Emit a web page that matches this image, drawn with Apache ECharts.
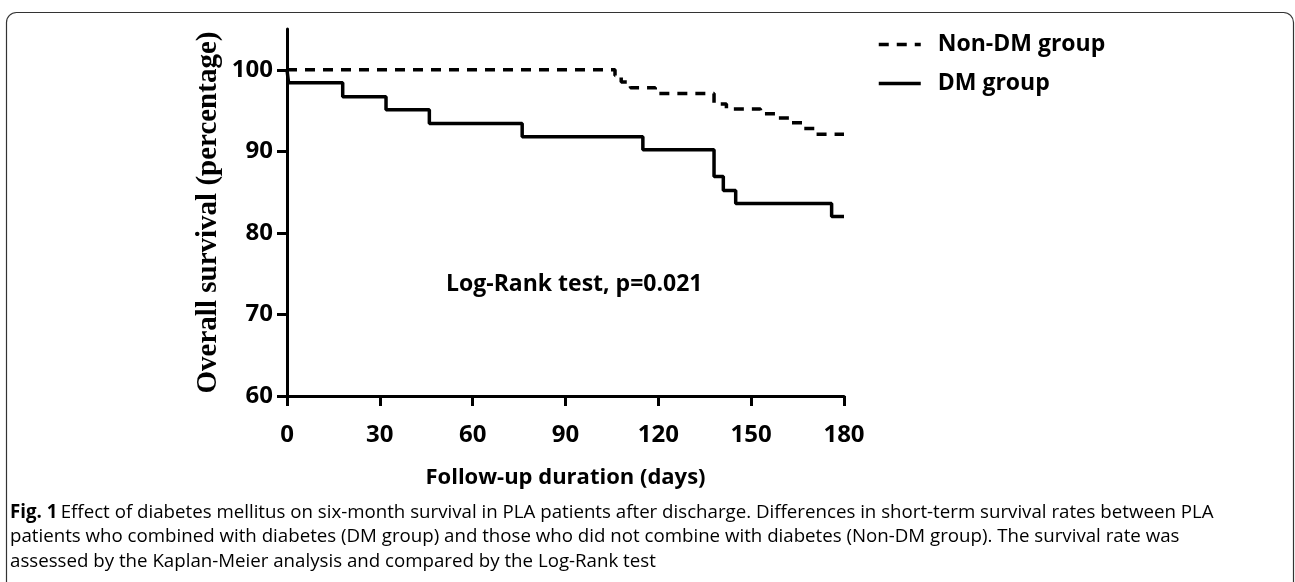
<!DOCTYPE html>
<html>
<head>
<meta charset="utf-8">
<title>Overall survival</title>
<script src="https://cdn.jsdelivr.net/npm/echarts@6/dist/echarts.min.js"></script>
<style>
  html, body { margin: 0; padding: 0; background: #fff; }
  #main { width: 1295px; height: 582px; }
</style>
</head>
<body>
<div id="main"></div>
<script>
// follow-up days and survival (%) at each step of the Kaplan-Meier curves
var dmDays = [0, 0.5, 18, 32, 46, 76, 115, 138, 141, 145, 176, 180];
var dmSurv = [100, 98.4, 96.7, 95.1, 93.4, 91.8, 90.2, 86.9, 85.2, 83.6, 82.0, 82.0];
var nonDmDays = [0, 106, 108, 111, 119, 138, 142, 153, 158, 163, 167, 171, 180];
var nonDmSurv = [100, 99.3, 98.5, 97.8, 97.1, 95.8, 95.2, 94.6, 94.1, 93.5, 92.8, 92.1, 92.1];
var xTicks = [0, 30, 60, 90, 120, 150, 180];
var yTicks = [60, 70, 80, 90, 100];
var seriesNames = ['Non-DM group', 'DM group'];

var caption = [
  'Effect of diabetes mellitus on six-month survival in PLA patients after discharge. Differences in short-term survival rates between PLA',
  'patients who combined with diabetes (DM group) and those who did not combine with diabetes (Non-DM group). The survival rate was',
  'assessed by the Kaplan-Meier analysis and compared by the Log-Rank test'
];

function pairs(xs, ys) {
  var out = [];
  for (var i = 0; i < xs.length; i++) out.push([xs[i], ys[i]]);
  return out;
}

var myChart = echarts.init(document.getElementById('main'));

var boldFont = { fontFamily: 'Open Sans', fontWeight: 'bold', color: '#000' };

var option = {
  backgroundColor: '#fff',
  animation: false,
  grid: { left: 287, right: 451, top: 29, bottom: 186 },
  legend: {
    orient: 'vertical',
    left: 872,
    top: 28,
    itemWidth: 42,
    itemHeight: 14,
    itemGap: 16,
    itemStyle: { opacity: 0 },
    lineStyle: { width: 3.5 },
    textStyle: { fontFamily: 'Open Sans', fontWeight: 'bold', fontSize: 23, color: '#000', padding: [0, 0, 0, 12] },
    data: seriesNames
  },
  xAxis: {
    type: 'value',
    min: 0,
    max: 180,
    interval: 30,
    name: 'Follow-up duration (days)',
    nameLocation: 'middle',
    nameGap: 71,
    nameTextStyle: { fontFamily: 'Open Sans', fontWeight: 'bold', fontSize: 22, color: '#000' },
    axisLine: { lineStyle: { color: '#000', width: 3 } },
    axisTick: { inside: false, length: 10, customValues: xTicks, lineStyle: { color: '#000', width: 3 } },
    axisLabel: Object.assign({ fontSize: 24, margin: 27, customValues: xTicks }, boldFont),
    splitLine: { show: false }
  },
  yAxis: {
    type: 'value',
    min: 60,
    max: 105,
    interval: 10,
    name: 'Overall survival (percentage)',
    nameLocation: 'middle',
    nameGap: 64,
    nameTextStyle: { fontFamily: 'Liberation Serif', fontWeight: 'bold', fontSize: 29, color: '#000' },
    axisLine: { lineStyle: { color: '#000', width: 3 } },
    axisTick: { inside: false, length: 10, customValues: yTicks, lineStyle: { color: '#000', width: 3 } },
    axisLabel: Object.assign({ fontSize: 24, margin: 14, customValues: yTicks }, boldFont),
    splitLine: { show: false }
  },
  graphic: [
    {
      type: 'rect',
      left: 4, top: 10,
      shape: { width: 1287, height: 600, r: 10 },
      style: { fill: 'none', stroke: '#333', lineWidth: 1.2 },
      z: -1
    },
    {
      type: 'text',
      left: 446, top: 273,
      style: { text: 'Log-Rank test, p=0.021', font: 'bold 23px "Open Sans"', fill: '#000' }
    },
    {
      type: 'text',
      left: 10, top: 503,
      style: {
        rich: {
          b: { font: 'bold 18.7px "Open Sans"', fill: '#000', lineHeight: 24.5 },
          n: { font: '18.7px "Open Sans"', fill: '#000', lineHeight: 24.5 }
        },
        text: '{b|Fig. 1} {n|' + caption[0] + '}\n{n|' + caption[1] + '}\n{n|' + caption[2] + '}'
      }
    }
  ],
  series: [
    {
      name: seriesNames[0],
      type: 'line',
      step: 'end',
      symbol: 'none',
      lineStyle: { color: '#000', width: 3.5, type: [10, 8] },
      itemStyle: { color: '#000' },
      data: pairs(nonDmDays, nonDmSurv)
    },
    {
      name: seriesNames[1],
      type: 'line',
      step: 'end',
      symbol: 'none',
      lineStyle: { color: '#000', width: 3.5 },
      itemStyle: { color: '#000' },
      data: pairs(dmDays, dmSurv)
    }
  ]
};
myChart.setOption(option);
</script>
</body>
</html>
